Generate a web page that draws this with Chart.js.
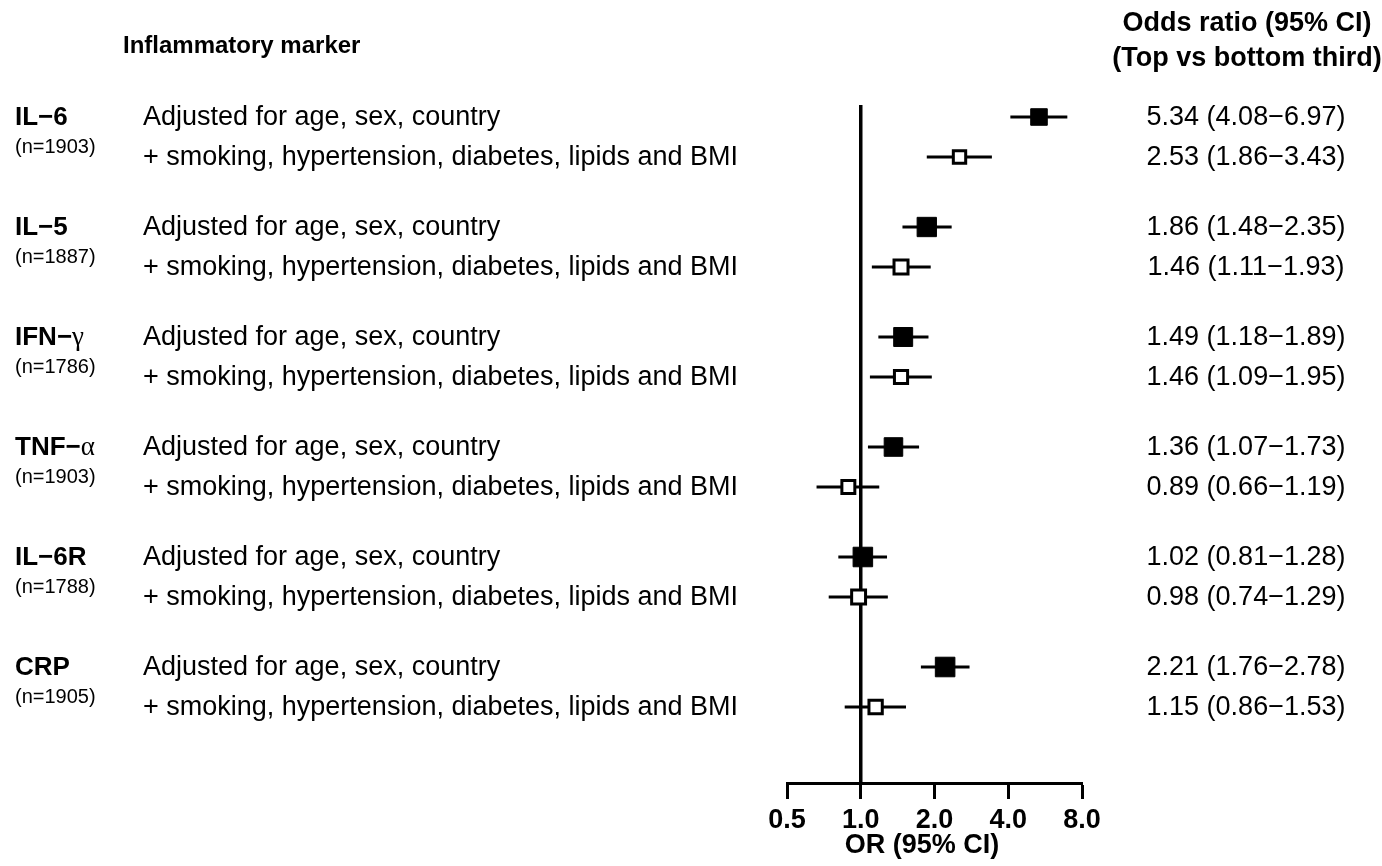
<!DOCTYPE html>
<html>
<head>
<meta charset="utf-8">
<script src="https://cdn.jsdelivr.net/npm/chart.js@4.4.1/dist/chart.umd.min.js"></script>
<style>
  html, body { margin: 0; padding: 0; background: #fff; }
</style>
</head>
<body>
<canvas id="forest-chart" width="1382" height="866"></canvas>
<script>
'use strict';

// marker names (greek suffix drawn in a serif face, like the original)
const markerNames = ['IL\u22126', 'IL\u22125', 'IFN\u2212', 'TNF\u2212', 'IL\u22126R', 'CRP'];
const markerGreek = ['', '', '\u03B3', '\u03B1', '', ''];
const sampleSizes = [1903, 1887, 1786, 1903, 1788, 1905];
const modelLabels = ['Adjusted for age, sex, country', '+ smoking, hypertension, diabetes, lipids and BMI'];

// model 1: age, sex, country
const orBasic = [5.34, 1.86, 1.49, 1.36, 1.02, 2.21];
const loBasic = [4.08, 1.48, 1.18, 1.07, 0.81, 1.76];
const hiBasic = [6.97, 2.35, 1.89, 1.73, 1.28, 2.78];
// model 2: + smoking, hypertension, diabetes, lipids and BMI
const orFull = [2.53, 1.46, 1.46, 0.89, 0.98, 1.15];
const loFull = [1.86, 1.11, 1.09, 0.66, 0.74, 0.86];
const hiFull = [3.43, 1.93, 1.95, 1.19, 1.29, 1.53];

const xTickValues = [0.5, 1, 2, 4, 8];

const FONT = '"Liberation Sans", Arial, Helvetica, sans-serif';

// row layout: 2.75 units between markers, 1 unit between the two models
function rowPos(group, model) {
    return group * 2.75 + model;
}

// box side shrinks with CI width (inverse precision)
function boxRadius(lo, hi, filled) {
    const side = 9.4 / Math.log(hi / lo);
    const stroke = filled ? 1 : 3;
    return (side - stroke) / Math.SQRT2;
}

function fmtOr(or, lo, hi) {
    return `${or.toFixed(2)} (${lo.toFixed(2)}\u2212${hi.toFixed(2)})`;
}

const ciDatasets = [];
markerNames.forEach((name, g) => {
    ciDatasets.push({
        type: 'scatter',
        showLine: true,
        data: [{ x: loBasic[g], y: rowPos(g, 0) }, { x: hiBasic[g], y: rowPos(g, 0) }],
        borderColor: '#000',
        borderWidth: 3,
        pointRadius: 0,
        order: 2,
    });
    ciDatasets.push({
        type: 'scatter',
        showLine: true,
        data: [{ x: loFull[g], y: rowPos(g, 1) }, { x: hiFull[g], y: rowPos(g, 1) }],
        borderColor: '#000',
        borderWidth: 3,
        pointRadius: 0,
        order: 2,
    });
});

const textPlugin = {
    id: 'forestText',
    afterDraw(chart) {
        const ctx = chart.ctx;
        const yScale = chart.scales.y;
        const area = chart.chartArea;
        ctx.save();
        ctx.fillStyle = '#000';
        ctx.textBaseline = 'middle';

        ctx.textAlign = 'left';
        ctx.font = `bold 24px ${FONT}`;
        ctx.fillText('Inflammatory marker', 123, 46);

        ctx.textAlign = 'center';
        ctx.font = `bold 27px ${FONT}`;
        ctx.fillText('Odds ratio (95% CI)', 1247, 24);
        ctx.fillText('(Top vs bottom third)', 1247, 59);

        // x axis title
        ctx.fillText('OR (95% CI)', 922, area.bottom + 63);

        markerNames.forEach((name, g) => {
            const y0 = yScale.getPixelForValue(rowPos(g, 0)) + 1;
            const y1 = yScale.getPixelForValue(rowPos(g, 1)) + 1;

            ctx.textAlign = 'left';
            ctx.font = `bold 26px ${FONT}`;
            ctx.fillText(name, 15, y0);
            if (markerGreek[g]) {
                const w = ctx.measureText(name).width;
                ctx.font = '27px "Liberation Serif", "DejaVu Serif", serif';
                ctx.fillText(markerGreek[g], 15 + w, y0);
            }
            ctx.font = `20px ${FONT}`;
            ctx.fillText(`(n=${sampleSizes[g]})`, 15, y0 + 29);

            ctx.font = `27px ${FONT}`;
            ctx.fillText(modelLabels[0], 143, y0);
            ctx.fillText(modelLabels[1], 143, y1);

            ctx.textAlign = 'center';
            ctx.fillText(fmtOr(orBasic[g], loBasic[g], hiBasic[g]), 1246, y0);
            ctx.fillText(fmtOr(orFull[g], loFull[g], hiFull[g]), 1246, y1);
        });
        ctx.restore();
    },
};

const forestChartElement = document.getElementById('forest-chart');
const forestChart = new Chart(forestChartElement, {
    type: 'scatter',
    data: {
        datasets: [
            {
                label: 'Adjusted for age, sex, country',
                data: orBasic.map((v, g) => ({ x: v, y: rowPos(g, 0) })),
                pointStyle: 'rect',
                pointRadius: orBasic.map((v, g) => boxRadius(loBasic[g], hiBasic[g], true)),
                backgroundColor: '#000',
                borderColor: '#000',
                borderWidth: 1,
                clip: false,
                order: 0,
            },
            {
                label: '+ smoking, hypertension, diabetes, lipids and BMI',
                data: orFull.map((v, g) => ({ x: v, y: rowPos(g, 1) })),
                pointStyle: 'rect',
                pointRadius: orFull.map((v, g) => boxRadius(loFull[g], hiFull[g], false)),
                backgroundColor: '#fff',
                borderColor: '#000',
                borderWidth: 3,
                clip: false,
                order: 0,
            },
            ...ciDatasets,
            {
                type: 'scatter',
                showLine: true,
                data: [{ x: 1, y: -0.3 }, { x: 1, y: 16.65 }],
                borderColor: '#000',
                borderWidth: 3.5,
                pointRadius: 0,
                order: 3,
            },
        ],
    },
    options: {
        responsive: false,
        animation: false,
        events: [],
        layout: {
            padding: { left: 787, right: 300, top: 105, bottom: 0 },
        },
        scales: {
            x: {
                type: 'logarithmic',
                min: 0.5,
                max: 8,
                afterBuildTicks: function (scale) {
                    scale.ticks = xTickValues.map(v => ({ value: v }));
                },
                afterFit: function (scale) {
                    scale.height = 83;
                },
                ticks: {
                    color: '#000',
                    padding: 5,
                    maxRotation: 0,
                    autoSkip: false,
                    font: { family: FONT, size: 27, weight: 'bold' },
                    callback: function (value) {
                        return Number(value).toFixed(1);
                    },
                },
                grid: {
                    drawOnChartArea: false,
                    drawTicks: true,
                    tickLength: 16,
                    tickWidth: 3,
                    tickColor: '#000',
                },
                border: {
                    display: true,
                    color: '#000',
                    width: 3,
                },
            },
            y: {
                type: 'linear',
                display: false,
                reverse: true,
                min: -0.3,
                max: 16.65,
            },
        },
        plugins: {
            legend: { display: false },
            tooltip: { enabled: false },
        },
    },
    plugins: [textPlugin],
});
</script>
</body>
</html>
